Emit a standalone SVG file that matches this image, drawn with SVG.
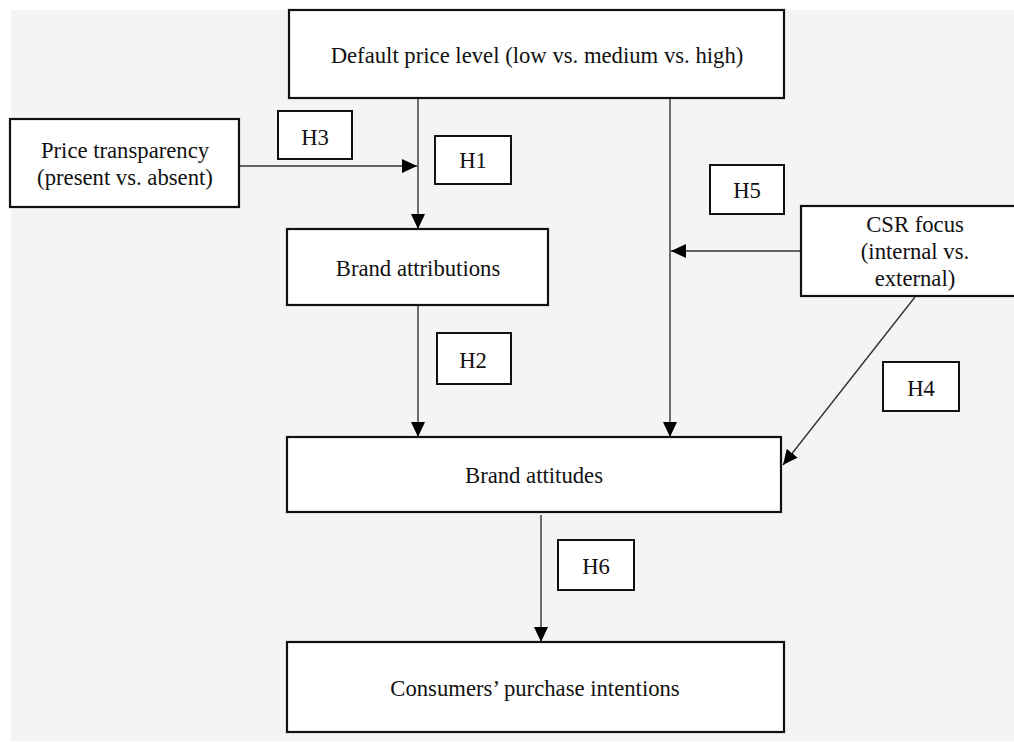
<svg xmlns="http://www.w3.org/2000/svg" width="1014" height="742" viewBox="0 0 1014 742">
<defs>
<style>
.box{fill:#fff;stroke:#111;stroke-width:2.2}
.lbl{fill:#fff;stroke:#111;stroke-width:2}
.t{font-family:"Liberation Serif","Times New Roman",serif;font-size:22.7px;fill:#111;text-anchor:middle}
.c{stroke:#333;stroke-width:1.4;fill:none}
</style>
<marker id="ah" viewBox="0 0 15 14" refX="15" refY="7" markerWidth="15" markerHeight="14" markerUnits="userSpaceOnUse" orient="auto">
<path d="M0,0 L15,7 L0,14 Z" fill="#000"/>
</marker>
</defs>
<rect x="0" y="0" width="1014" height="742" fill="#fff"/>
<rect x="11" y="10" width="1003" height="731" fill="#f4f4f4"/>

<g id="connectors">
<line class="c" x1="418" y1="98" x2="418" y2="229" marker-end="url(#ah)"/>
<line class="c" x1="239" y1="166" x2="417" y2="166" marker-end="url(#ah)"/>
<line class="c" x1="670" y1="98" x2="670" y2="437" marker-end="url(#ah)"/>
<line class="c" x1="801" y1="251" x2="671" y2="251" marker-end="url(#ah)"/>
<line class="c" x1="418" y1="305" x2="418" y2="437" marker-end="url(#ah)"/>
<line class="c" x1="915" y1="297" x2="783" y2="465" marker-end="url(#ah)"/>
<line class="c" x1="541" y1="515" x2="541" y2="642" marker-end="url(#ah)"/>
</g>

<g id="node-default-price">
<rect class="box" x="289" y="10" width="495" height="88"/>
<text class="t" x="537" y="63">Default price level (low vs. medium vs. high)</text>
</g>
<g id="node-price-transparency">
<rect class="box" x="10" y="119" width="229" height="88"/>
<text class="t" x="125" y="158">Price transparency</text>
<text class="t" x="125" y="185">(present vs. absent)</text>
</g>
<g id="node-brand-attributions">
<rect class="box" x="287" y="229" width="261" height="76"/>
<text class="t" x="418" y="276">Brand attributions</text>
</g>
<g id="node-csr-focus">
<rect class="box" x="801" y="206" width="230" height="90"/>
<text class="t" x="915" y="232">CSR focus</text>
<text class="t" x="915" y="259">(internal vs.</text>
<text class="t" x="915" y="286">external)</text>
</g>
<g id="node-brand-attitudes">
<rect class="box" x="287" y="437" width="494" height="75"/>
<text class="t" x="534" y="483">Brand attitudes</text>
</g>
<g id="node-purchase-intentions">
<rect class="box" x="287" y="642" width="497" height="90"/>
<text class="t" x="535" y="696">Consumers’ purchase intentions</text>
</g>

<g id="label-h3">
<rect class="lbl" x="278" y="111" width="74" height="48"/>
<text class="t" x="315" y="145">H3</text>
</g>
<g id="label-h1">
<rect class="lbl" x="435" y="136" width="76" height="48"/>
<text class="t" x="473" y="168">H1</text>
</g>
<g id="label-h5">
<rect class="lbl" x="710" y="165" width="74" height="49"/>
<text class="t" x="747" y="198">H5</text>
</g>
<g id="label-h2">
<rect class="lbl" x="437" y="333" width="74" height="51"/>
<text class="t" x="473" y="368">H2</text>
</g>
<g id="label-h4">
<rect class="lbl" x="883" y="362" width="76" height="49"/>
<text class="t" x="921" y="396">H4</text>
</g>
<g id="label-h6">
<rect class="lbl" x="558" y="540" width="76" height="50"/>
<text class="t" x="596" y="574">H6</text>
</g>
</svg>
